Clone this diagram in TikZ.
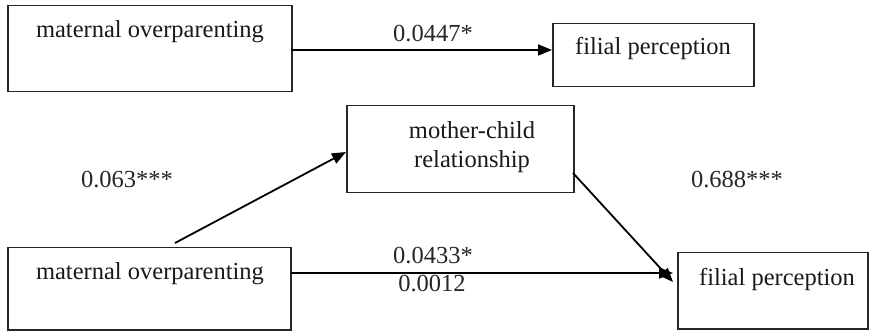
\documentclass[tikz,border=0pt]{standalone}
\usepackage{fontspec}
\setmainfont{Liberation Serif}
\usetikzlibrary{arrows.meta}
\begin{document}
\begin{tikzpicture}[x=1pt,y=-1pt,
  box/.style={draw=black!85,line width=1.5pt,rectangle,inner sep=0pt,anchor=north west},
  lbl/.style={font=\fontsize{24.5}{29}\selectfont,inner sep=0pt,text=black!90},
  num/.style={font=\fontsize{24.5}{29}\selectfont,inner sep=0pt,text=black!85},
  arr/.style={line width=1.8pt,-{Triangle[length=14pt,width=11pt]}}]
\useasboundingbox (0,0) rectangle (873,331);
% boxes
\node[box,minimum width=284pt,minimum height=86pt] (mo1) at (7,5) {};
\node[box,minimum width=201pt,minimum height=63pt] (fp1) at (552,23) {};
\node[box,minimum width=227pt,minimum height=87pt] (mc) at (346,105) {};
\node[box,minimum width=283pt,minimum height=82pt] (mo2) at (7,247) {};
\node[box,minimum width=190pt,minimum height=76pt] (fp2) at (677,252) {};
% box texts
\node[lbl] (t1) at (150,32) {maternal overparenting};
\node[lbl] (t2) at (653,48) {filial perception};
\node[lbl,align=center] (t3) at (472,147) {mother-child\\relationship};
\node[lbl] (t4) at (150,274) {maternal overparenting};
\node[lbl] (t5) at (777,279) {filial perception};
% connector end points
\coordinate (a1) at (291,50);
\coordinate (b1) at (552,50);
\coordinate (a2) at (175,243);
\coordinate (b2) at (346,152);
\coordinate (a3) at (291,273);
\coordinate (b3) at (673,273);
\coordinate (a4) at (573,173);
\coordinate (b4) at (673,282);
\draw[arr] (a1) -- (b1);
\draw[arr] (a2) -- (b2);
\draw[arr] (a3) -- (b3);
\draw[arr] (a4) -- (b4);
% numbers
\node[num] (n1) at (433,34) {0.0447*};
\node[num] (n2) at (127,180) {0.063***};
\node[num] (n3) at (737,180) {0.688***};
\node[num] (n4) at (433,256) {0.0433*};
\node[num] (n5) at (432,284) {0.0012};
\end{tikzpicture}
\end{document}
